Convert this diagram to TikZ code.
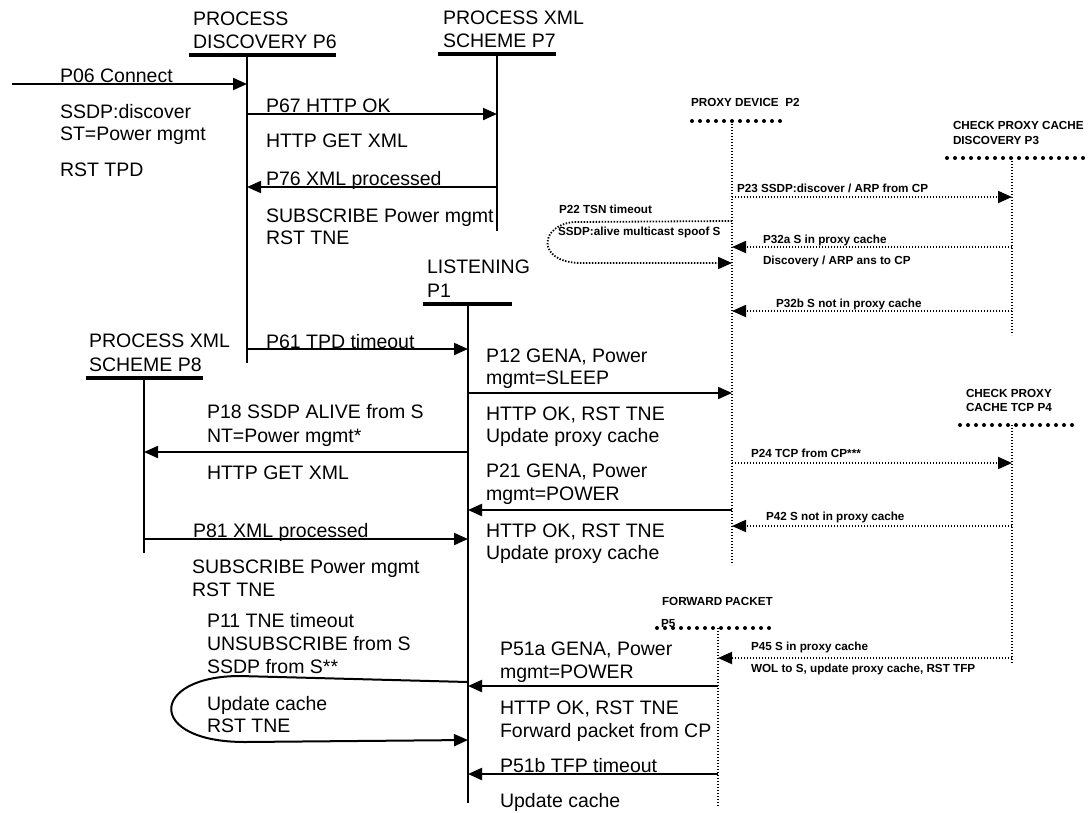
\documentclass[tikz,border=0pt]{standalone}
\usepackage{fontspec}
\setmainfont{Liberation Sans}
\usetikzlibrary{arrows.meta}
\begin{document}
\begin{tikzpicture}[x=1pt,y=-1pt,
  txt/.style={anchor=base west,inner sep=0pt,outer sep=0pt,font=\fontsize{19.5}{23}\selectfont},
  stxt/.style={anchor=base west,inner sep=0pt,outer sep=0pt,font=\bfseries\fontsize{11.7}{14}\selectfont},
  life/.style={line width=2pt},
  headline/.style={line width=3.2pt},
  dlife/.style={line width=1.3pt,dash pattern=on 1.2pt off 1.8pt},
  dhead/.style={line width=4pt,line cap=round,dash pattern=on 0pt off 8pt},
  msg/.style={line width=2pt,-{Triangle[length=14pt,width=12pt]}},
  dmsg/.style={line width=1.8pt,dash pattern=on 1.4pt off 1.6pt,-{Triangle[length=14pt,width=12pt]}}]
\useasboundingbox (0,0) rectangle (1089,812);

% ---------- solid lifelines ----------
% P6
\coordinate (p6L) at (189,55); \coordinate (p6R) at (336,55);
\coordinate (p6t) at (247,55); \coordinate (p6b) at (247,363);
\draw[headline] (p6L) -- (p6R);
\draw[life] (p6t) -- (p6b);
% P7
\coordinate (p7L) at (438,54); \coordinate (p7R) at (556,54);
\coordinate (p7t) at (497,54); \coordinate (p7b) at (497,231);
\draw[headline] (p7L) -- (p7R);
\draw[life] (p7t) -- (p7b);
% P1
\coordinate (p1L) at (423,304); \coordinate (p1R) at (512,304);
\coordinate (p1t) at (468,304); \coordinate (p1b) at (468,803);
\draw[headline] (p1L) -- (p1R);
\draw[life] (p1t) -- (p1b);
% P8
\coordinate (p8L) at (86,378); \coordinate (p8R) at (203,378);
\coordinate (p8t) at (144,378); \coordinate (p8b) at (144,553);
\draw[headline] (p8L) -- (p8R);
\draw[life] (p8t) -- (p8b);

% ---------- dotted lifelines ----------
% P2
\coordinate (p2L) at (692,121); \coordinate (p2R) at (784,121);
\coordinate (p2t) at (732,121); \coordinate (p2b) at (732,565);
\draw[dhead] (p2L) -- (p2R);
\draw[dlife] (p2t) -- (p2b);
% P3
\coordinate (p3L) at (947,158); \coordinate (p3R) at (1088,158);
\coordinate (p3t) at (1012,158); \coordinate (p3b) at (1012,335);
\draw[dhead] (p3L) -- (p3R);
\draw[dlife] (p3t) -- (p3b);
% P4
\coordinate (p4L) at (960,425); \coordinate (p4R) at (1072,425);
\coordinate (p4t) at (1012,425); \coordinate (p4b) at (1012,663);
\draw[dhead] (p4L) -- (p4R);
\draw[dlife] (p4t) -- (p4b);
% P5
\coordinate (p5L) at (657,628); \coordinate (p5R) at (770,628);
\coordinate (p5t) at (718,628); \coordinate (p5b) at (718,806);
\draw[dhead] (p5L) -- (p5R);
\draw[dlife] (p5t) -- (p5b);

% ---------- headers ----------
\node[txt] (h6a) at (193,25) {PROCESS};
\node[txt] (h6b) at (193,48) {DISCOVERY P6};
\node[txt] (h7a) at (443,24) {PROCESS XML};
\node[txt] (h7b) at (443,47) {SCHEME P7};
\node[txt] (h1a) at (427,273) {LISTENING};
\node[txt] (h1b) at (427,297) {P1};
\node[txt] (h8a) at (89,347) {PROCESS XML};
\node[txt] (h8b) at (89,371) {SCHEME P8};
\node[stxt] (h2) at (691,106) {PROXY DEVICE\ \ P2};
\node[stxt] (h3a) at (953,129) {CHECK PROXY CACHE};
\node[stxt] (h3b) at (953,144) {DISCOVERY P3};
\node[stxt] (h4a) at (966,397) {CHECK PROXY};
\node[stxt] (h4b) at (966,411) {CACHE TCP P4};
\node[stxt] (h5a) at (662,605) {FORWARD PACKET};
\node[stxt] (h5b) at (661,627) {P5};

% ---------- solid messages ----------
\coordinate (m06a) at (12,84);   \coordinate (m06b) at (247,84);
\coordinate (m67a) at (247,114); \coordinate (m67b) at (497,114);
\coordinate (m76a) at (497,187); \coordinate (m76b) at (247,187);
\coordinate (m61a) at (247,349); \coordinate (m61b) at (468,349);
\coordinate (m12a) at (468,393); \coordinate (m12b) at (732,393);
\coordinate (m18a) at (468,452); \coordinate (m18b) at (144,452);
\coordinate (m21a) at (732,510); \coordinate (m21b) at (468,510);
\coordinate (m81a) at (144,539); \coordinate (m81b) at (468,539);
\coordinate (m51aa) at (718,686); \coordinate (m51ab) at (468,686);
\coordinate (m51ba) at (718,774); \coordinate (m51bb) at (468,774);
\coordinate (m11a) at (468,682); \coordinate (m11b) at (468,740);
\draw[msg] (m06a) -- (m06b);
\draw[msg] (m67a) -- (m67b);
\draw[msg] (m76a) -- (m76b);
\draw[msg] (m61a) -- (m61b);
\draw[msg] (m12a) -- (m12b);
\draw[msg] (m18a) -- (m18b);
\draw[msg] (m21a) -- (m21b);
\draw[msg] (m81a) -- (m81b);
\draw[msg] (m51aa) -- (m51ab);
\draw[msg] (m51ba) -- (m51bb);
% self loop on P1
\draw[msg] (m11a) -- (240,676) .. controls (150,676) and (145,742) .. (245,742) -- (m11b);

% ---------- dotted messages ----------
\coordinate (m23a) at (732,197);  \coordinate (m23b) at (1012,197);
\coordinate (m32aa) at (1012,247); \coordinate (m32ab) at (732,247);
\coordinate (m32ba) at (1012,311); \coordinate (m32bb) at (732,311);
\coordinate (m24a) at (732,463);  \coordinate (m24b) at (1012,463);
\coordinate (m42a) at (1012,526); \coordinate (m42b) at (732,526);
\coordinate (m45a) at (1012,658); \coordinate (m45b) at (718,658);
\coordinate (m22a) at (732,221);  \coordinate (m22b) at (732,263);
\draw[dmsg] (m23a) -- (m23b);
\draw[dmsg] (m32aa) -- (m32ab);
\draw[dmsg] (m32ba) -- (m32bb);
\draw[dmsg] (m24a) -- (m24b);
\draw[dmsg] (m42a) -- (m42b);
\draw[dmsg] (m45a) -- (m45b);
% self loop on P2
\draw[dmsg] (m22a) -- (575,222) .. controls (540,224) and (535,262) .. (580,263) -- (m22b);

% ---------- labels, main size ----------
\node[txt] (t06) at (60,82) {P06 Connect};
\node[txt] (t06b) at (60,118) {SSDP:discover};
\node[txt] (t06c) at (60,140) {ST=Power mgmt};
\node[txt] (t06d) at (60,176) {RST TPD};
\node[txt] (t67) at (266,112) {P67 HTTP OK};
\node[txt] (t67b) at (266,147) {HTTP GET XML};
\node[txt] (t76) at (266,185) {P76 XML processed};
\node[txt] (t76b) at (266,222) {SUBSCRIBE Power mgmt};
\node[txt] (t76c) at (266,244) {RST TNE};
\node[txt] (t61) at (266,348) {P61 TPD timeout};
\node[txt] (t12) at (486,362) {P12 GENA, Power};
\node[txt] (t12b) at (486,384) {mgmt=SLEEP};
\node[txt] (t12c) at (486,420) {HTTP OK, RST TNE};
\node[txt] (t12d) at (486,442) {Update proxy cache};
\node[txt] (t18) at (207,418) {P18 SSDP ALIVE from S};
\node[txt] (t18b) at (207,442) {NT=Power mgmt*};
\node[txt] (t18c) at (207,479) {HTTP GET XML};
\node[txt] (t21) at (486,477) {P21 GENA, Power};
\node[txt] (t21b) at (486,500) {mgmt=POWER};
\node[txt] (t21c) at (486,537) {HTTP OK, RST TNE};
\node[txt] (t21d) at (486,559) {Update proxy cache};
\node[txt] (t81) at (193,537) {P81 XML processed};
\node[txt] (t81b) at (192,573) {SUBSCRIBE Power mgmt};
\node[txt] (t81c) at (192,596) {RST TNE};
\node[txt] (t11) at (207,627) {P11 TNE timeout};
\node[txt] (t11b) at (207,650) {UNSUBSCRIBE from S};
\node[txt] (t11c) at (207,673) {SSDP from S**};
\node[txt] (t11d) at (207,710) {Update cache};
\node[txt] (t11e) at (207,732) {RST TNE};
\node[txt] (t51a) at (500,655) {P51a GENA, Power};
\node[txt] (t51ab) at (500,678) {mgmt=POWER};
\node[txt] (t51ac) at (500,714) {HTTP OK, RST TNE};
\node[txt] (t51ad) at (500,737) {Forward packet from CP};
\node[txt] (t51b) at (500,772) {P51b TFP timeout};
\node[txt] (t51bb) at (500,807) {Update cache};

% ---------- labels, small size ----------
\node[stxt] (t23) at (737,192) {P23 SSDP:discover / ARP from CP};
\node[stxt] (t22) at (559,213) {P22 TSN timeout};
\node[stxt] (t22b) at (558,235) {SSDP:alive multicast spoof S};
\node[stxt] (t32a) at (763,243) {P32a S in proxy cache};
\node[stxt] (t32ab) at (763,264) {Discovery / ARP ans to CP};
\node[stxt] (t32b) at (776,307) {P32b S not in proxy cache};
\node[stxt] (t24) at (751,457) {P24 TCP from CP***};
\node[stxt] (t42) at (766,520) {P42 S not in proxy cache};
\node[stxt] (t45) at (751,650) {P45 S in proxy cache};
\node[stxt] (t45b) at (751,672) {WOL to S, update proxy cache, RST TFP};
\end{tikzpicture}
\end{document}
